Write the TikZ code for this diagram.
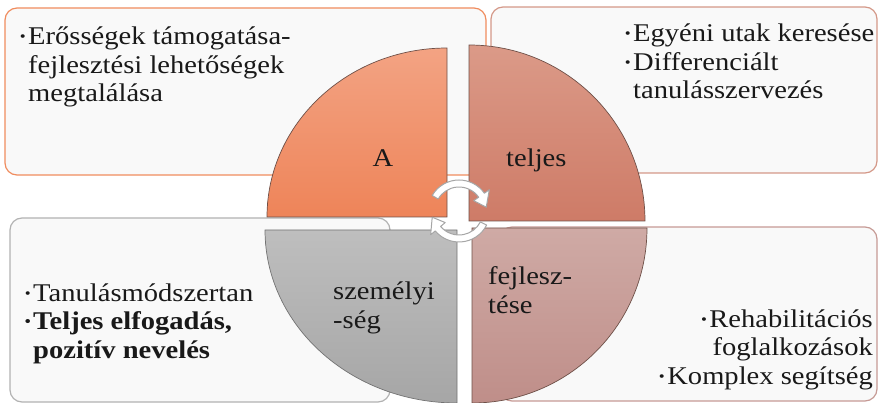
\documentclass[tikz,border=0pt]{standalone}
\usepackage{fontspec}
\setmainfont[FakeStretch=1.12]{Liberation Serif}
\newcommand\mybul{\llap{\raisebox{3pt}{\fontsize{15}{15}\selectfont\textbullet}\hspace{2.5pt}}}
\definecolor{boxfill}{HTML}{F9F9F9}
\definecolor{tlc}{HTML}{F08C5E}
\definecolor{trc}{HTML}{D49888}
\definecolor{blc}{HTML}{B2B2B2}
\definecolor{brc}{HTML}{C69A95}
\definecolor{qA1}{HTML}{F3A383}
\definecolor{qA2}{HTML}{EE8459}
\definecolor{qB1}{HTML}{DB9A88}
\definecolor{qB2}{HTML}{CE7B67}
\definecolor{qC1}{HTML}{BEBEBE}
\definecolor{qC2}{HTML}{A6A6A6}
\definecolor{qD1}{HTML}{CFAAA5}
\definecolor{qD2}{HTML}{BF8E89}
\definecolor{qedge}{HTML}{6E5048}
\begin{document}
\begin{tikzpicture}[x=1pt,y=-1pt,
  box/.style={rounded corners=12pt, fill=boxfill, line width=1.2pt},
  quad/.style={draw=qedge, line width=0.7pt},
  txt/.style={font=\fontsize{25.5}{28.5}\selectfont, inner sep=0pt, text=black!90},
  lab/.style={font=\fontsize{25.5}{28.5}\selectfont, inner sep=0pt, text=black!90},
  cyc/.style={fill=white, draw=black!35, line width=1pt, line join=round}]
\useasboundingbox (0,0) rectangle (878,403);
% background boxes
\draw[box, draw=tlc] (5,8) rectangle (486,175);
\draw[box, draw=trc] (491,7) rectangle (877,173);
\draw[box, draw=blc] (10,218) rectangle (390,402);
\draw[box, draw=brc] (500,227) rectangle (877,401);
% quadrants
\shadedraw[quad, top color=qA1, bottom color=qA2] (447,217) -- (267,217) arc[start angle=180, end angle=270, x radius=180, y radius=169] -- cycle;
\shadedraw[quad, top color=qB1, bottom color=qB2] (469,221) -- (469,45) arc[start angle=270, end angle=360, x radius=176, y radius=176] -- cycle;
\shadedraw[quad, top color=qD1, bottom color=qD2] (472,228) -- (647,228) arc[start angle=0, end angle=90, x radius=175, y radius=175] -- cycle;
\shadedraw[quad, draw=black!55, top color=qC1, bottom color=qC2] (457,230) -- (457,403) arc[start angle=90, end angle=180, x radius=192, y radius=173] -- cycle;
% cycle arrows
\begin{scope}[shift={(459,211)}]
\draw[cyc] (-150:31) arc[start angle=-150, end angle=-35, radius=31] -- (-35:37) -- (-8:27.5) -- (-35:18) -- (-35:24) arc[start angle=-35, end angle=-150, radius=24] -- cycle;
\draw[cyc] (27:31) arc[start angle=27, end angle=140, radius=31] -- (140:37) -- (167:27.5) -- (140:18) -- (140:24) arc[start angle=140, end angle=27, radius=24] -- cycle;
\end{scope}
% quadrant labels (anchor = baseline of the last line)
\node[lab, anchor=base] (qa) at (383,167) {A};
\node[lab, anchor=base west] (qb) at (506,167) {teljes};
\node[lab, anchor=base west, align=left] (qc) at (333,328.5) {személyi\\-ség};
\node[lab, anchor=base west, align=left] (qd) at (488,313.5) {fejlesz-\\tése};
% box texts (anchor = baseline of the last line)
\node[txt, anchor=base west, align=left] (tl) at (28,102) {\mybul Erősségek támogatása-\\fejlesztési lehetőségek\\megtalálása};
\node[txt, anchor=base west, align=left] (tr) at (633,99) {\mybul Egyéni utak keresése\\\mybul Differenciált\\tanulásszervezés};
\node[txt, anchor=base west, align=left] (bl) at (33,358) {\mybul Tanulásmódszertan\\{\bfseries\mybul Teljes elfogadás,}\\{\bfseries pozitív nevelés}};
\node[txt, anchor=base east, align=right] (br) at (873,384) {\mybul Rehabilitációs\\foglalkozások\\\mybul Komplex segítség};
\end{tikzpicture}
\end{document}
